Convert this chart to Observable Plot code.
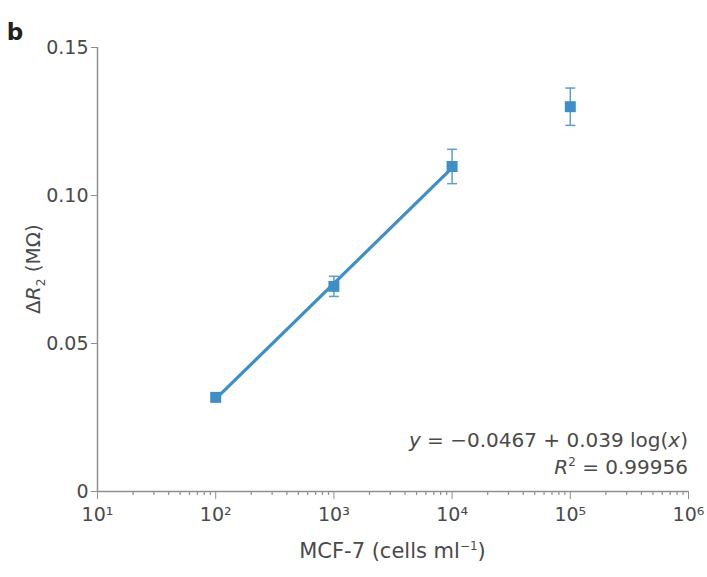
<!DOCTYPE html>
<html><head><meta charset="utf-8">
<script src="https://cdn.jsdelivr.net/npm/d3@7"></script>
<script src="https://cdn.jsdelivr.net/npm/@observablehq/plot@0.6"></script>
<style>
body{margin:0;background:#fff;}
#chart{position:relative;width:707px;height:577px;}
</style></head>
<body><div id="chart"></div>
<script>
// data
const concentrations = [1e2, 1e3, 1e4, 1e5];      // MCF-7 cells/ml
const deltaR2 = [0.0318, 0.0693, 0.1098, 0.1300];  // MΩ
const errors = [0.0008, 0.0034, 0.0058, 0.0063];
const fitX = [1e2, 1e4];
const fitY = [0.0313, 0.1093];
const majorTicksX = [1e1, 1e2, 1e3, 1e4, 1e5, 1e6];
const majorLabelsX = ["10¹", "10²", "10³", "10⁴", "10⁵", "10⁶"];
const ticksY = [0, 0.05, 0.10, 0.15];
const labelsY = ["0", "0.05", "0.10", "0.15"];

const pts = concentrations.map((c, i) => ({x: c, y: deltaR2[i], lo: deltaR2[i] - errors[i], hi: deltaR2[i] + errors[i]}));
const fit = fitX.map((x, i) => ({x, y: fitY[i]}));
const minor = [];
for (let e = 1; e < 6; e++) for (let k = 2; k <= 9; k++) minor.push(k * Math.pow(10, e));

const capSymbol = {draw(ctx, size) { const r = Math.sqrt(size) / 2; ctx.moveTo(-r, 0); ctx.lineTo(r, 0); }};
const axisColor = "#8f8f8f";
const textColor = "#4a4a4a";
const blue = "#3f8fc6";
const font = "'DejaVu Sans', sans-serif";

const plot = Plot.plot({
  width: 707, height: 577,
  marginLeft: 97, marginRight: 19, marginTop: 47, marginBottom: 86,
  style: {fontFamily: font, fontSize: "19px", color: textColor, background: "#fff"},
  x: {type: "log", domain: [1e1, 1e6]},
  y: {domain: [0, 0.15]},
  marks: [
    Plot.ruleY([0], {stroke: axisColor, strokeWidth: 1.5}),
    Plot.ruleX([1e1], {y1: 0, y2: 0.15, stroke: axisColor, strokeWidth: 1.5}),
    Plot.axisY({ticks: ticksY, tickFormat: d => labelsY[ticksY.indexOf(d)], tickSize: 6, tickPadding: 3, stroke: axisColor, label: null, fill: textColor}),
    Plot.axisX({ticks: majorTicksX, tickFormat: d => majorLabelsX[majorTicksX.indexOf(d)], tickSize: 8, tickPadding: 8, stroke: axisColor, label: null, fill: textColor}),
    Plot.axisX({ticks: minor, tickFormat: () => "", tickSize: 4, stroke: axisColor, strokeWidth: 1.2, label: null}),
    Plot.line(fit, {x: "x", y: "y", stroke: blue, strokeWidth: 3.2}),
    Plot.ruleX(pts, {x: "x", y1: "lo", y2: "hi", stroke: "#5c9fcb", strokeWidth: 1.5}),
    Plot.dot(pts, {x: "x", y: "lo", symbol: capSymbol, r: 5.6, stroke: "#5c9fcb", strokeWidth: 1.5}),
    Plot.dot(pts, {x: "x", y: "hi", symbol: capSymbol, r: 5.6, stroke: "#5c9fcb", strokeWidth: 1.5}),
    Plot.dot(pts, {x: "x", y: "y", symbol: "square", r: 6.2, fill: blue, stroke: "none"})
  ]
});

const svg = d3.select(plot);
const sx = plot.scale("x"), sy = plot.scale("y");

// panel letter
svg.append("text").attr("x", 15).attr("y", 40).attr("font-family", font).attr("font-weight", "bold")
  .attr("font-size", 23).attr("fill", "#222").text("b");

// y label
const yl = svg.append("text").attr("transform", `translate(40,${(sy.apply(0) + sy.apply(0.15)) / 2}) rotate(-90)`)
  .attr("text-anchor", "middle").attr("font-family", font).attr("font-size", 20).attr("fill", textColor);
yl.append("tspan").text("Δ");
yl.append("tspan").attr("font-style", "italic").text("R");
yl.append("tspan").attr("font-size", 12).attr("dy", 5).text("2");
yl.append("tspan").attr("dy", -5).text(" (MΩ)");

// x label
const xl = svg.append("text").attr("x", (sx.apply(1e1) + sx.apply(1e6)) / 2).attr("y", 558)
  .attr("text-anchor", "middle").attr("font-family", font).attr("font-size", 21).attr("fill", textColor);
xl.append("tspan").text("MCF-7 (cells ml");
xl.append("tspan").attr("font-size", 12).attr("dy", -8).text("−1");
xl.append("tspan").attr("dy", 8).text(")");

// equation
const eq = svg.append("text").attr("x", sx.apply(1e6)).attr("y", 447)
  .attr("text-anchor", "end").attr("font-family", font).attr("font-size", 20).attr("fill", textColor);
eq.append("tspan").attr("font-style", "italic").text("y");
eq.append("tspan").text(" = −0.0467 + 0.039 log(");
eq.append("tspan").attr("font-style", "italic").text("x");
eq.append("tspan").text(")");
const r2 = svg.append("text").attr("x", sx.apply(1e6)).attr("y", 474)
  .attr("text-anchor", "end").attr("font-family", font).attr("font-size", 20).attr("fill", textColor);
r2.append("tspan").attr("font-style", "italic").text("R");
r2.append("tspan").attr("font-size", 12).attr("dy", -8).text("2");
r2.append("tspan").attr("dy", 8).text(" = 0.99956");

document.getElementById("chart").appendChild(plot);
</script></body></html>
